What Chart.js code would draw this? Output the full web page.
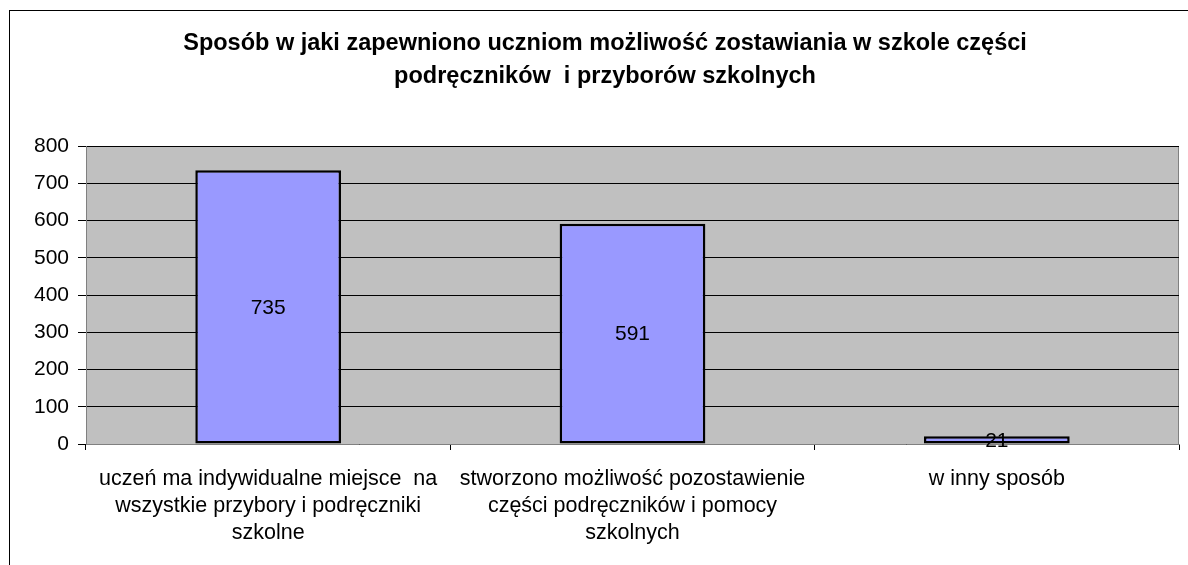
<!DOCTYPE html>
<html>
<head>
<meta charset="utf-8">
<script src="https://cdn.jsdelivr.net/npm/chart.js@4"></script>
<style>
  html, body { margin: 0; padding: 0; background: #fff; }
  #wrap { width: 1188px; height: 565px; position: relative; }
</style>
</head>
<body>
<div id="wrap"><canvas id="chart"></canvas></div>
<script>
// chart data
const TITLE_LINES = [
  'Sposób w jaki zapewniono uczniom możliwość zostawiania w szkole części',
  'podręczników  i przyborów szkolnych'
];
const CATEGORIES = [
  ['uczeń ma indywidualne miejsce  na', 'wszystkie przybory i podręczniki', 'szkolne'],
  ['stworzono możliwość pozostawienie', 'części podręczników i pomocy', 'szkolnych'],
  ['w inny sposób']
];
const VALUES = [735, 591, 21];
const Y_MIN = 0, Y_MAX = 800, Y_STEP = 100;

const FONT = '"Liberation Sans", Arial, sans-serif';

// grey plot area, outer frame, title
const frame = {
  id: 'frame',
  beforeDraw: (chart) => {
    const { ctx, chartArea: a } = chart;
    ctx.save();
    ctx.fillStyle = '#c0c0c0';
    ctx.fillRect(a.left, a.top, a.right - a.left, a.bottom - a.top);
    ctx.strokeStyle = '#808080';
    ctx.lineWidth = 1;
    ctx.strokeRect(a.left + 0.5, a.top + 0.5, a.right - a.left - 1, a.bottom - a.top);
    // outer chart border
    ctx.strokeStyle = '#000';
    ctx.strokeRect(9.5, 10.5, 1300, 700);
    // title
    ctx.fillStyle = '#000';
    ctx.font = 'bold 23.5px ' + FONT;
    ctx.textAlign = 'center';
    ctx.textBaseline = 'middle';
    TITLE_LINES.forEach((t, i) => ctx.fillText(t, 605, 44 + i * 33));
    ctx.restore();
  },
  afterDatasetsDraw: (chart) => {
    const { ctx } = chart;
    const meta = chart.getDatasetMeta(0);
    ctx.save();
    ctx.fillStyle = '#000';
    ctx.font = '21px ' + FONT;
    ctx.textAlign = 'center';
    ctx.textBaseline = 'middle';
    meta.data.forEach((bar, i) => {
      ctx.fillText(String(VALUES[i]), bar.x, (bar.y + bar.base) / 2 + 1);
    });
    ctx.restore();
  }
};

new Chart(document.getElementById('chart'), {
  type: 'bar',
  data: {
    labels: CATEGORIES,
    datasets: [{
      data: VALUES,
      backgroundColor: '#9999ff',
      borderColor: '#000',
      borderWidth: 2.5,
      borderSkipped: false,
      categoryPercentage: 1,
      barPercentage: 0.4
    }]
  },
  plugins: [frame],
  options: {
    responsive: true,
    maintainAspectRatio: false,
    animation: false,
    layout: { padding: { top: 146, right: 9, left: 0, bottom: 0 } },
    plugins: {
      legend: { display: false },
      tooltip: { enabled: false },
      title: { display: false }
    },
    scales: {
      x: {
        afterFit: (s) => { s.height = 121; },
        grid: { drawOnChartArea: false, color: '#000', tickLength: 6, offset: true },
        border: { color: '#808080' },
        ticks: {
          color: '#000',
          font: { family: FONT, size: 21.5, lineHeight: 1.25 },
          maxRotation: 0,
          autoSkip: false,
          padding: 16
        }
      },
      y: {
        min: Y_MIN,
        max: Y_MAX,
        afterFit: (s) => { s.width = 86; },
        grid: { color: '#000', tickLength: 8 },
        border: { color: '#808080' },
        ticks: {
          stepSize: Y_STEP,
          color: '#000',
          font: { family: FONT, size: 21 },
          padding: 9
        }
      }
    }
  }
});
</script>
</body>
</html>
